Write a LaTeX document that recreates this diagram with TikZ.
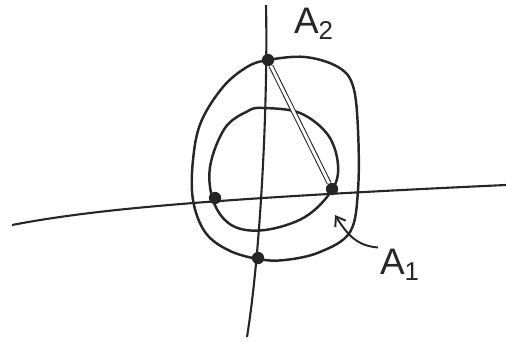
\documentclass[tikz,border=0pt]{standalone}
\usepackage{fontspec}
\setmainfont{Liberation Sans}
\usetikzlibrary{arrows.meta}
\tikzset{
  axis/.style={line width=1.2pt,black!85},
  loopline/.style={line width=1.4pt,black!85},
  dot/.style={circle,fill=black!85,inner sep=0pt,minimum size=7pt},
  lbl/.style={font=\fontsize{21}{23}\selectfont,inner sep=1pt,black!85},
  arr/.style={-{Straight Barb[length=5pt,width=7pt]},line width=1.1pt,black!85},
  chord/.style={double,double distance=1.6pt,line width=0.6pt,black!85},
}
\begin{document}
\begin{tikzpicture}[x=0.02cm,y=-0.02cm]
\useasboundingbox (0,0) rectangle (506,341);
% axes
\coordinate (xl) at (12,225);
\coordinate (xr) at (506,185);
\coordinate (yt) at (266,5);
\coordinate (yb) at (247,337);
\draw[axis] (xl) .. controls (90,210) and (200,199) .. (xr);
\draw[axis] (yt) .. controls (268,100) and (261,250) .. (yb);
% outer and inner loop
\draw[loopline] plot[smooth cycle,tension=0.6] coordinates {(268,60) (305,57) (338,67) (353,86) (358,130) (358,190) (350,232) (320,252) (285,260) (258,259) (228,250) (205,232) (193,200) (193,160) (201,122) (223,87) (247,67)};
\draw[loopline] plot[smooth cycle,tension=0.6] coordinates {(263,108) (300,113) (328,135) (338,165) (332,190) (305,217) (265,230) (233,226) (214,203) (210,167) (225,128) (248,111)};
% the four points
\node[dot] (top) at (268,60) {};
\node[dot] (right) at (332,189) {};
\node[dot] (left) at (215,198) {};
\node[dot] (bottom) at (258,258) {};
\draw[chord] (top) -- (right);
% labels
\node[lbl] (a2) at (314,24) {A\textsubscript{2}};
\node[lbl] (a1) at (400,265) {A\textsubscript{1}};
\coordinate (tip) at (335,215);
\draw[arr] (a1.north west) .. controls (358,246) and (348,236) .. (tip);
\end{tikzpicture}
\end{document}
